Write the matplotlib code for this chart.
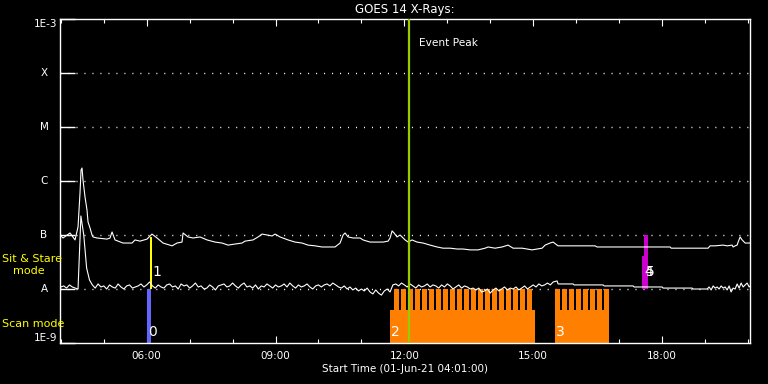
import numpy as np
import matplotlib
matplotlib.use('Agg')
import matplotlib.pyplot as plt
from matplotlib.ticker import FixedLocator, FuncFormatter, NullLocator
import matplotlib.transforms as mtrans

UNIT = 1e-9  # all flux values below are in units of 1e-9 W/m^2

# long channel (1-8 A), time in hours of 01-Jun-21
long_t = [3.980, 4.050, 4.213, 4.330, 4.400, 4.446, 4.470, 4.493, 4.516, 4.563,
          4.609, 4.633, 4.679, 4.726, 4.749, 4.842, 5.075, 5.145, 5.192, 5.262,
          5.448, 5.658, 5.727, 5.844, 6.007, 6.123, 6.240, 6.380, 6.589, 6.706,
          6.822, 6.846, 6.962, 7.078, 7.242, 7.405, 7.591, 7.754, 7.894, 8.057,
          8.220, 8.290, 8.476, 8.593, 8.686, 8.802, 8.919, 8.989, 9.105, 9.291,
          9.454, 9.617, 9.757, 9.920, 10.083, 10.270, 10.386, 10.503, 10.573, 10.619,
          10.689, 10.806, 10.969, 11.038, 11.201, 11.365, 11.504, 11.621, 11.667, 11.714,
          11.760, 11.830, 11.900, 12.017, 12.087, 12.180, 12.296, 12.436, 12.599, 12.762,
          12.902, 13.065, 13.228, 13.368, 13.531, 13.717, 13.880, 13.950, 14.113, 14.276,
          14.416, 14.533, 14.742, 14.859, 14.975, 15.092, 15.208, 15.278, 15.394, 15.464,
          15.557, 15.581, 16.443, 16.489, 18.190, 18.213, 19.075, 19.121, 19.238, 19.424,
          19.517, 19.634, 19.657, 19.704, 19.750, 19.774, 19.820, 19.867, 19.937, 20.053]
long_flux = [100, 88, 109, 81, 141, 600, 1600, 1740, 1040, 505,
             290, 174, 135, 100, 92, 88, 84, 88, 114, 81,
             71, 71, 81, 77, 84, 104, 88, 71, 63, 71,
             74, 109, 92, 88, 92, 81, 74, 71, 65, 68,
             71, 77, 81, 92, 104, 100, 96, 104, 92, 81,
             74, 71, 65, 63, 60, 60, 60, 71, 100, 109,
             92, 88, 88, 81, 74, 74, 74, 77, 88, 119,
             109, 92, 100, 81, 74, 81, 74, 71, 65, 60,
             57, 57, 55, 55, 53, 53, 57, 60, 57, 60,
             65, 57, 57, 55, 53, 55, 57, 65, 71, 74,
             65, 63, 63, 60, 60, 57, 57, 63, 63, 65,
             63, 65, 60, 63, 65, 74, 92, 81, 71, 71]

# short channel (0.5-4 A): 4-minute samples from 04:00 to 15:28
short_flux = [10.9, 11.4, 10.4, 11.9, 10.9, 10.4, 10.0, 225, 100, 24.5, 14.7, 11.9, 10.4, 12.4, 10.9,
              11.4, 10.0, 11.9, 10.9, 10.4, 12.4, 10.9, 10.0, 11.4, 11.9, 10.4, 10.9, 11.4,
              12.4, 10.9, 11.9, 13.5, 11.4, 10.4, 11.9, 10.9,
              10.4, 11.9, 12.4, 10.9, 11.4, 10.0, 12.4, 11.4, 11.9, 10.4, 11.4, 12.9, 10.9,
              11.4, 10.0, 10.4, 11.9, 10.9, 9.6, 11.4, 11.9, 12.4, 10.9, 11.4, 12.9, 11.4, 10.4,
              11.9, 12.9, 10.9, 11.4, 10.4, 11.9, 10.0, 11.4, 10.9, 12.4, 11.4, 10.4, 11.9, 10.9,
              11.4, 12.4, 10.9, 12.9, 11.4, 10.4, 11.9, 10.9, 11.4, 12.4, 10.9, 10.0, 11.4, 11.9,
              10.9, 11.9, 12.4, 11.4, 12.9, 11.9, 10.9, 10.4, 11.4, 10.0, 10.9, 9.6, 10.4, 9.2,
              10.0, 9.2, 10.4, 8.8, 8.1, 9.6, 8.4, 7.7, 9.2, 10.0, 8.8, 11.9,
              12.4, 11.4, 12.9, 11.9, 10.9, 12.4, 11.4, 10.4, 11.9, 10.9, 11.4, 12.4, 10.9, 11.9,
              11.4, 10.4, 11.9, 10.9, 12.4, 11.4, 10.0, 10.9, 11.9, 10.4, 11.4, 10.9, 10.0, 10.4,
              9.6, 10.4, 8.8, 9.2, 10.0, 8.4, 9.6, 10.4, 9.2, 10.0, 10.9, 9.6, 10.4, 10.0,
              10.9, 9.6, 10.4, 11.4, 10.0, 10.9, 11.9, 10.9, 12.4, 11.4, 11.9, 12.9, 11.9, 13.5]
short_tail_t = [15.557, 15.581, 15.930, 15.953, 16.629, 16.652, 17.328, 17.351, 18.003, 18.027,
                18.702, 18.726, 19.052, 19.098, 19.145, 19.192, 19.238, 19.285, 19.331, 19.378,
                19.424, 19.471, 19.517, 19.564, 19.610, 19.657, 19.704, 19.750, 19.797, 19.843,
                19.890, 19.937, 19.983, 20.030, 20.053]
short_tail_flux = [14.1, 12.4, 12.4, 11.9, 11.9, 11.4, 11.4, 10.9, 10.9, 10.4,
                   10.4, 10.0, 10.0, 10.9, 9.6, 11.4, 10.4, 10.9, 10.0, 11.4,
                   10.4, 10.9, 9.6, 11.4, 8.8, 10.4, 10.0, 12.4, 10.4, 12.9,
                   10.9, 11.9, 12.9, 10.9, 11.4]

# scan mode observations
scan_start = [11.667, 15.511]
scan_end = [15.045, 16.745]
scan_labels = ['2', '3']
raster_t = [11.760, 11.924, 12.087, 12.250, 12.413, 12.576, 12.739, 12.902, 13.065, 13.228,
            13.391, 13.554, 13.717, 13.880, 14.043, 14.206, 14.369, 14.533, 14.696, 14.859,
            15.511, 15.674, 15.837, 16.000, 16.163, 16.326, 16.489, 16.652]
raster_dur = 0.112
scan0_t = 6.007

# sit & stare observations
sas_t = [6.085, 17.537, 17.584]
sas_dur = [0.035, 0.14, 0.093]
sas_top = [90, 41, 100]
sas_color = ['#ffff00', '#cc00cc', '#cc00cc']
sas_labels = ['1', '4', '5']

peak_t = 12.103

level_flux = [1e-8, 1e-7, 1e-6, 1e-5, 1e-4]
level_names = ['A', 'B', 'C', 'M', 'X']

W, H = 768, 384
fig = plt.figure(figsize=(7.68, 3.84), dpi=100, facecolor='black')
ax = fig.add_axes([60 / W, 1 - 343 / H, 690 / W, 324 / H], facecolor='black')
ax.set_yscale('log')
ax.set_xlim(3.98, 20.05)
ax.set_ylim(1e-9, 1e-3)

for lv in level_flux:
    ax.axhline(lv, color='white', lw=1, linestyle=(0, (0.75, 5.0)), zorder=1)

# scan mode bars
base_top = 4.1e-9
ax.bar(scan_start, base_top - UNIT, width=np.array(scan_end) - np.array(scan_start),
       bottom=UNIT, align='edge', color='#ff8000', linewidth=0, zorder=2)
ax.bar(raster_t, 1e-8 - UNIT, width=raster_dur, bottom=UNIT, align='edge',
       color='#ff8000', linewidth=0, zorder=2)
ax.bar([scan0_t], 1e-8 - UNIT, width=0.093, bottom=UNIT, align='edge',
       color='#6464ff', linewidth=0, zorder=2)

# sit & stare bars
for t, d, top, c in zip(sas_t, sas_dur, sas_top, sas_color):
    ax.bar([t], top * UNIT - 1e-8, width=d, bottom=1e-8, align='edge',
           color=c, linewidth=0, zorder=2)

# GOES curves
short_t = 4.0 + np.arange(len(short_flux)) * 4 / 60
ax.plot(np.concatenate([short_t, short_tail_t]),
        np.concatenate([short_flux, short_tail_flux]) * UNIT,
        color='white', lw=0.8, zorder=3)
ax.plot(long_t, np.array(long_flux) * UNIT, color='white', lw=0.8, zorder=3)

ax.axvline(peak_t, color='#99cc00', lw=1.6, zorder=4)
ax.text(peak_t + 0.24, 3.6e-4, 'Event Peak', color='white', fontsize=7.6,
        va='center', ha='left')

# observation numbers
for t, lab in zip([scan0_t] + scan_start, ['0'] + scan_labels):
    ax.text(t + 0.03, 1.2e-9, lab, color='white', fontsize=10, va='bottom', ha='left', zorder=5)
for t, lab in zip(sas_t, sas_labels):
    ax.text(t + 0.05, 1.5e-8, lab, color='white', fontsize=10, va='bottom', ha='left', zorder=5)

# axes styling
for s in ax.spines.values():
    s.set_color('white')
    s.set_linewidth(1.0)
ax.xaxis.set_major_locator(FixedLocator([6, 9, 12, 15, 18]))
ax.xaxis.set_minor_locator(FixedLocator(list(range(4, 21))))
ax.xaxis.set_major_formatter(FuncFormatter(lambda h, p: '%02d:00' % int(round(h))))
ax.tick_params(axis='x', which='major', direction='in', length=5, width=0.8,
               top=True, colors='white', labelsize=7.5, pad=6)
ax.tick_params(axis='x', which='minor', direction='in', length=3, width=0.8,
               top=True, colors='white')
ax.yaxis.set_major_locator(FixedLocator([1e-9, 1e-8, 1e-7, 1e-6, 1e-5, 1e-4, 1e-3]))
ax.yaxis.set_minor_locator(NullLocator())
ax.tick_params(axis='y', which='major', direction='in', length=10.8, width=1.0,
               colors='white', labelleft=False)

ytr = mtrans.blended_transform_factory(ax.transAxes, ax.transData)
for lv, name in zip(level_flux, level_names):
    ax.text(-16 / 690, lv, name, color='white', fontsize=7.5, ha='center', va='center',
            transform=ytr)
ax.text(-3 / 690, 1e-3, '1E-3', color='white', fontsize=7.5, ha='right', va='top', transform=ytr)
ax.text(-3 / 690, 1e-9, '1E-9', color='white', fontsize=7.5, ha='right', va='bottom', transform=ytr)

fig.text(405 / W, 1 - 10 / H, 'GOES 14 X-Rays:', color='white', fontsize=8.5,
         ha='center', va='center')
fig.text(405 / W, 1 - 369 / H, 'Start Time (01-Jun-21 04:01:00)', color='white',
         fontsize=7.5, ha='center', va='center')
fig.text(2 / W, 1 - 259 / H, 'Sit & Stare', color='#ffff00', fontsize=8, ha='left', va='center')
fig.text(13 / W, 1 - 271 / H, 'mode', color='#ffff00', fontsize=8, ha='left', va='center')
fig.text(2 / W, 1 - 324 / H, 'Scan mode', color='#ffff00', fontsize=8, ha='left', va='center')

fig.savefig('out.png', dpi=100, facecolor='black')
